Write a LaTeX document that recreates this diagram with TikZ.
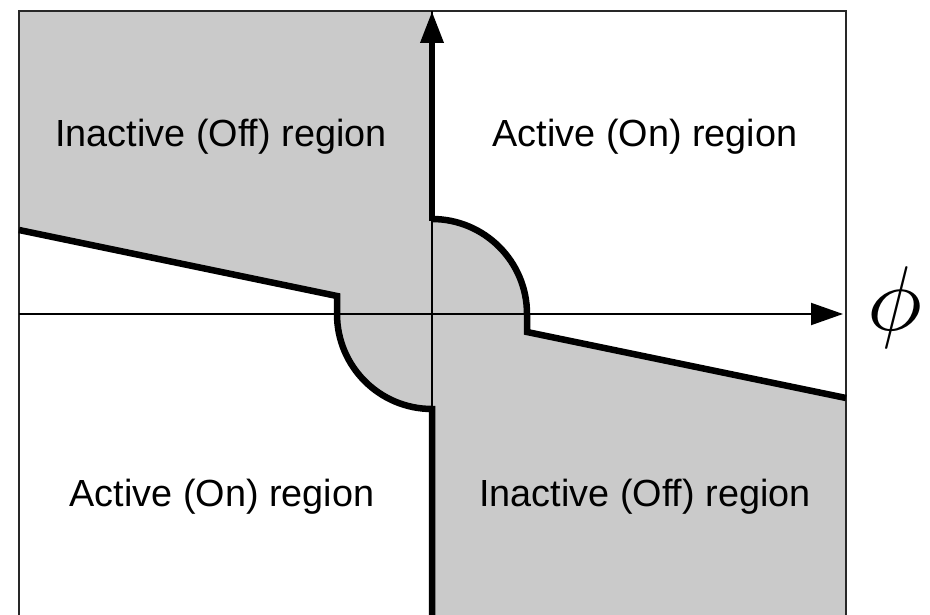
\documentclass[tikz,border=0pt]{standalone}
\usepackage{fontspec}
\setsansfont{Liberation Sans}
\usetikzlibrary{arrows.meta}
\definecolor{regiongray}{RGB}{202,202,202}
\definecolor{framegray}{RGB}{40,40,40}
\tikzset{
  boundary/.style={line width=6.5pt, line join=miter, black},
  axisline/.style={line width=2pt, black},
  framebox/.style={line width=2.6pt, framegray},
  label/.style={font=\sffamily\fontsize{37.8}{40}\selectfont, inner sep=0pt},
  tip/.style={-{Triangle[length=32pt,width=22pt]}}
}
\begin{document}
\begin{tikzpicture}[x=1pt,y=1pt]
\useasboundingbox (0,0) rectangle (930,614);
\clip (0,0) rectangle (930,614);
% gray region
\fill[regiongray] (19,603) -- (432,603) -- (432,395) arc[start angle=90,end angle=0,radius=95]
  -- (527,282) -- (846,216) -- (846,-10) -- (432,-10) -- (432,205)
  arc[start angle=270,end angle=180,radius=95] -- (337,318) -- (19,384) -- cycle;
% frame
\draw[framebox] (19,-20) rectangle (846,603);
% axes
\coordinate (o) at (432,300);
\coordinate (xl) at (19,300);
\coordinate (xr) at (843,300);
\coordinate (yb) at (432,-10);
\coordinate (yt) at (432,603);
\draw[axisline, tip] (xl) -- (xr);
\draw[axisline] (yb) -- (yt);
% boundary
\draw[boundary] (19,384) -- (337,318) -- (337,300) arc[start angle=180,end angle=270,radius=95] -- (yb);
\draw[boundary] (846,216) -- (527,282) -- (527,300) arc[start angle=0,end angle=90,radius=95] -- (432,395);
\draw[line width=6.5pt, tip] (432,393) -- (yt);
% labels
\node[label] (ul) at (221,477) {Inactive (Off) region};
\node[label] (ur) at (645,477) {Active (On) region};
\node[label] (ll) at (222,117) {Active (On) region};
\node[label] (lr) at (645,117) {Inactive (Off) region};
\node[inner sep=0pt, scale=9.2] (phi) at (895,306) {$\phi$};
\end{tikzpicture}
\end{document}
